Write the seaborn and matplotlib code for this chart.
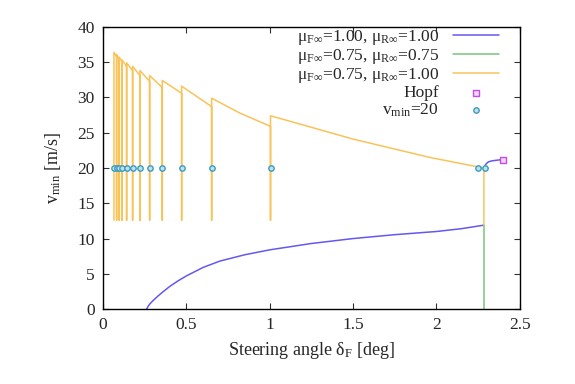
import numpy as np
import matplotlib
matplotlib.use("Agg")
import matplotlib.pyplot as plt
import seaborn as sns

# sawtooth branch (mu_F=0.75, mu_R=1.00): jump positions and values just before / after each jump
breaks = [0.066, 0.082, 0.098, 0.115, 0.142, 0.178, 0.222, 0.280, 0.356, 0.472, 0.652, 1.005]
v_before = [np.nan, 35.8, 35.4, 35.0, 34.4, 33.8, 33.1, 32.3, 31.4, 30.6, 28.7, 25.9]
v_after = [36.4, 36.1, 35.7, 35.3, 34.9, 34.4, 33.8, 33.1, 32.4, 31.6, 29.9, 27.4]
v_low = 12.6
# intermediate points read between the jumps
mid_x = [0.82]
mid_v = [27.8]
# tail after the last jump
tail_x = [1.5, 1.96, 2.24, 2.285, 2.285]
tail_v = [24.1, 21.5, 20.2, 20.0, 11.9]

# mu_F=1.00, mu_R=1.00
blue_x = [0.262, 0.27, 0.28, 0.30, 0.33, 0.36, 0.40, 0.45, 0.50, 0.60, 0.70, 0.85,
          1.0, 1.25, 1.5, 1.75, 2.0, 2.15, 2.285]
blue_v = [0.0, 0.35, 0.7, 1.2, 1.85, 2.45, 3.2, 4.0, 4.7, 5.9, 6.8, 7.7,
          8.4, 9.3, 10.0, 10.55, 11.0, 11.4, 11.9]
blue2_x = [2.29, 2.295, 2.31, 2.33, 2.36, 2.40]
blue2_v = [20.0, 20.5, 20.85, 21.0, 21.1, 21.2]

# mu_F=0.75, mu_R=0.75
green_x = [2.285, 2.285]
green_v = [11.9, 0.0]

hopf_x = [2.40]
hopf_v = [21.2]
vmin_x = breaks + [2.25, 2.29]
vmin_v = [20.0] * len(vmin_x)

# build orange path
ox, oy = [], []
for i, b in enumerate(breaks):
    if i > 0:
        for mx, mv in zip(mid_x, mid_v):
            if breaks[i - 1] < mx < b:
                ox.append(mx); oy.append(mv)
        ox.append(b); oy.append(v_before[i])
    ox += [b, b]
    oy += [v_low, v_after[i]]
ox += tail_x
oy += tail_v

sns.set_style("ticks")
plt.rcParams['font.family'] = ['Liberation Serif', 'DejaVu Serif']
plt.rcParams['mathtext.fontset'] = 'custom'
plt.rcParams['mathtext.rm'] = 'Liberation Serif'
plt.rcParams['mathtext.it'] = 'Liberation Serif:italic'

c_blue = '#6458f0'
c_green = '#7cc27c'
c_orange = '#f9c35a'
c_hopf = '#c24de8'
c_teal = '#3b9cbf'

fig = plt.figure(figsize=(5.75, 3.84), dpi=100)
ax = fig.add_axes([0.179, 0.195, 0.725, 0.735])

sns.lineplot(x=blue_x, y=blue_v, sort=False, estimator=None, color=c_blue, lw=1.1, ax=ax,
             label=r'μ$_{\mathrm{F}\infty}$=1.00, μ$_{\mathrm{R}\infty}$=1.00')
sns.lineplot(x=green_x, y=green_v, sort=False, estimator=None, color=c_green, lw=1.1, ax=ax,
             label=r'μ$_{\mathrm{F}\infty}$=0.75, μ$_{\mathrm{R}\infty}$=0.75')
sns.lineplot(x=ox, y=oy, sort=False, estimator=None, color=c_orange, lw=1.1, ax=ax,
             label=r'μ$_{\mathrm{F}\infty}$=0.75, μ$_{\mathrm{R}\infty}$=1.00')
sns.lineplot(x=blue2_x, y=blue2_v, sort=False, estimator=None, color=c_blue, lw=1.1, ax=ax)
sns.scatterplot(x=hopf_x, y=hopf_v, marker='s', s=16, facecolor='#f2d6fb', edgecolor=c_hopf,
                linewidth=1.0, ax=ax, label='Hopf', zorder=5)
sns.scatterplot(x=vmin_x, y=vmin_v, marker='o', s=15, facecolor='#bfe0ec', edgecolor=c_teal,
                linewidth=1.0, ax=ax, label=r'v$_{\mathrm{min}}$=20', zorder=5)

ax.set_xlim(0, 2.5)
ax.set_ylim(0, 40)
ax.set_xticks([0, 0.5, 1, 1.5, 2, 2.5])
ax.set_xticklabels(['0', '0.5', '1', '1.5', '2', '2.5'])
ax.set_yticks(range(0, 41, 5))
ax.tick_params(direction='in', top=True, right=True, labelsize=12.5, length=4, width=0.8,
               color='#333333', pad=6)
for s in ax.spines.values():
    s.set_linewidth(1.0)
    s.set_color('black')
ax.set_xlabel(r'Steering angle δ$_{\mathrm{F}}$ [deg]', fontsize=13, labelpad=5)
ax.set_ylabel(r'v$_{\mathrm{min}}$ [m/s]', fontsize=13, labelpad=10)

leg = ax.legend(loc='upper right', frameon=False, markerfirst=False, fontsize=12.5,
                handlelength=2.65, handletextpad=0.8, labelspacing=0.0,
                borderaxespad=0, borderpad=0,
                bbox_to_anchor=(499 / 575, 1 - 28 / 384), bbox_transform=fig.transFigure)

fig.savefig('out.png', dpi=100)
